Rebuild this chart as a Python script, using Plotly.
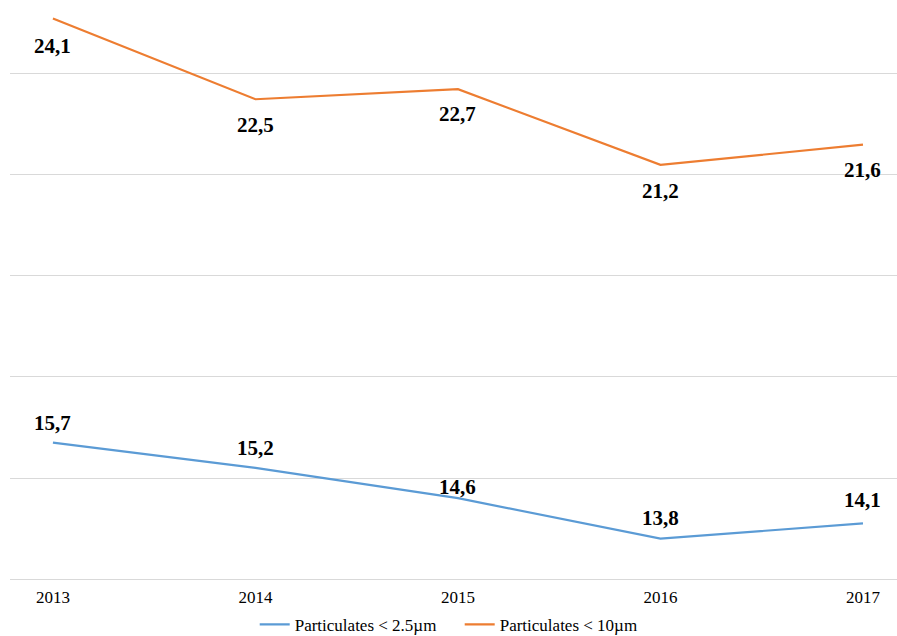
import plotly.graph_objects as go

years = [2013, 2014, 2015, 2016, 2017]
year_labels = ["2013", "2014", "2015", "2016", "2017"]
pm25 = [15.7, 15.2, 14.6, 13.8, 14.1]
pm10 = [24.1, 22.5, 22.7, 21.2, 21.6]
pm25_name = "Particulates < 2.5µm"
pm10_name = "Particulates < 10µm"

BLUE = "#5B9BD5"
ORANGE = "#ED7D31"
SERIF = "Liberation Serif"

# label offsets (pixels), style only
pm25_shift = [20, 20, 11, 21, 23]
pm10_shift = [-28, -26, -25, -26, -25]

fig = go.Figure()
fig.add_trace(go.Scatter(x=years, y=pm25, mode="lines", name=pm25_name,
                         line=dict(color=BLUE, width=2.2)))
fig.add_trace(go.Scatter(x=years, y=pm10, mode="lines", name=pm10_name,
                         line=dict(color=ORANGE, width=2.2)))

def fmt(v):
    return f"{v:.1f}".replace(".", ",")

for x, y, s in zip(years, pm25, pm25_shift):
    fig.add_annotation(x=x, y=y, text="<b>" + fmt(y) + "</b>", showarrow=False, yshift=s,
                       font=dict(family=SERIF, size=21, color="#000000"),
                       xanchor="center", yanchor="middle")
for x, y, s in zip(years, pm10, pm10_shift):
    fig.add_annotation(x=x, y=y, text="<b>" + fmt(y) + "</b>", showarrow=False, yshift=s,
                       font=dict(family=SERIF, size=21, color="#000000"),
                       xanchor="center", yanchor="middle")

fig.update_layout(
    width=897, height=636,
    margin=dict(l=10, r=0, t=0, b=57, autoexpand=False),
    paper_bgcolor="white", plot_bgcolor="white",
    font=dict(family=SERIF, color="#000000"),
    showlegend=True,
    legend=dict(orientation="h", x=0.507, xanchor="center", y=-0.079, yanchor="middle",
                font=dict(family=SERIF, size=17, color="#000000"),
                itemwidth=30, tracegroupgap=0, entrywidth=160),
    xaxis=dict(range=[2012.788, 2017.168], tickvals=years, ticktext=year_labels,
               showgrid=False, zeroline=False, showline=True, linecolor="#D9D9D9",
               linewidth=1, ticks="", ticklabelstandoff=3,
               tickfont=dict(family=SERIF, size=17, color="#000000")),
    yaxis=dict(range=[13, 24.465], dtick=2, tick0=13, showgrid=True, gridcolor="#D9D9D9",
               gridwidth=1, zeroline=False, showticklabels=False, showline=False, ticks=""),
)

fig.write_html("out.html", config={"displayModeBar": False, "responsive": False},
               post_script="document.body.style.margin='0';document.body.style.overflow='hidden';")
